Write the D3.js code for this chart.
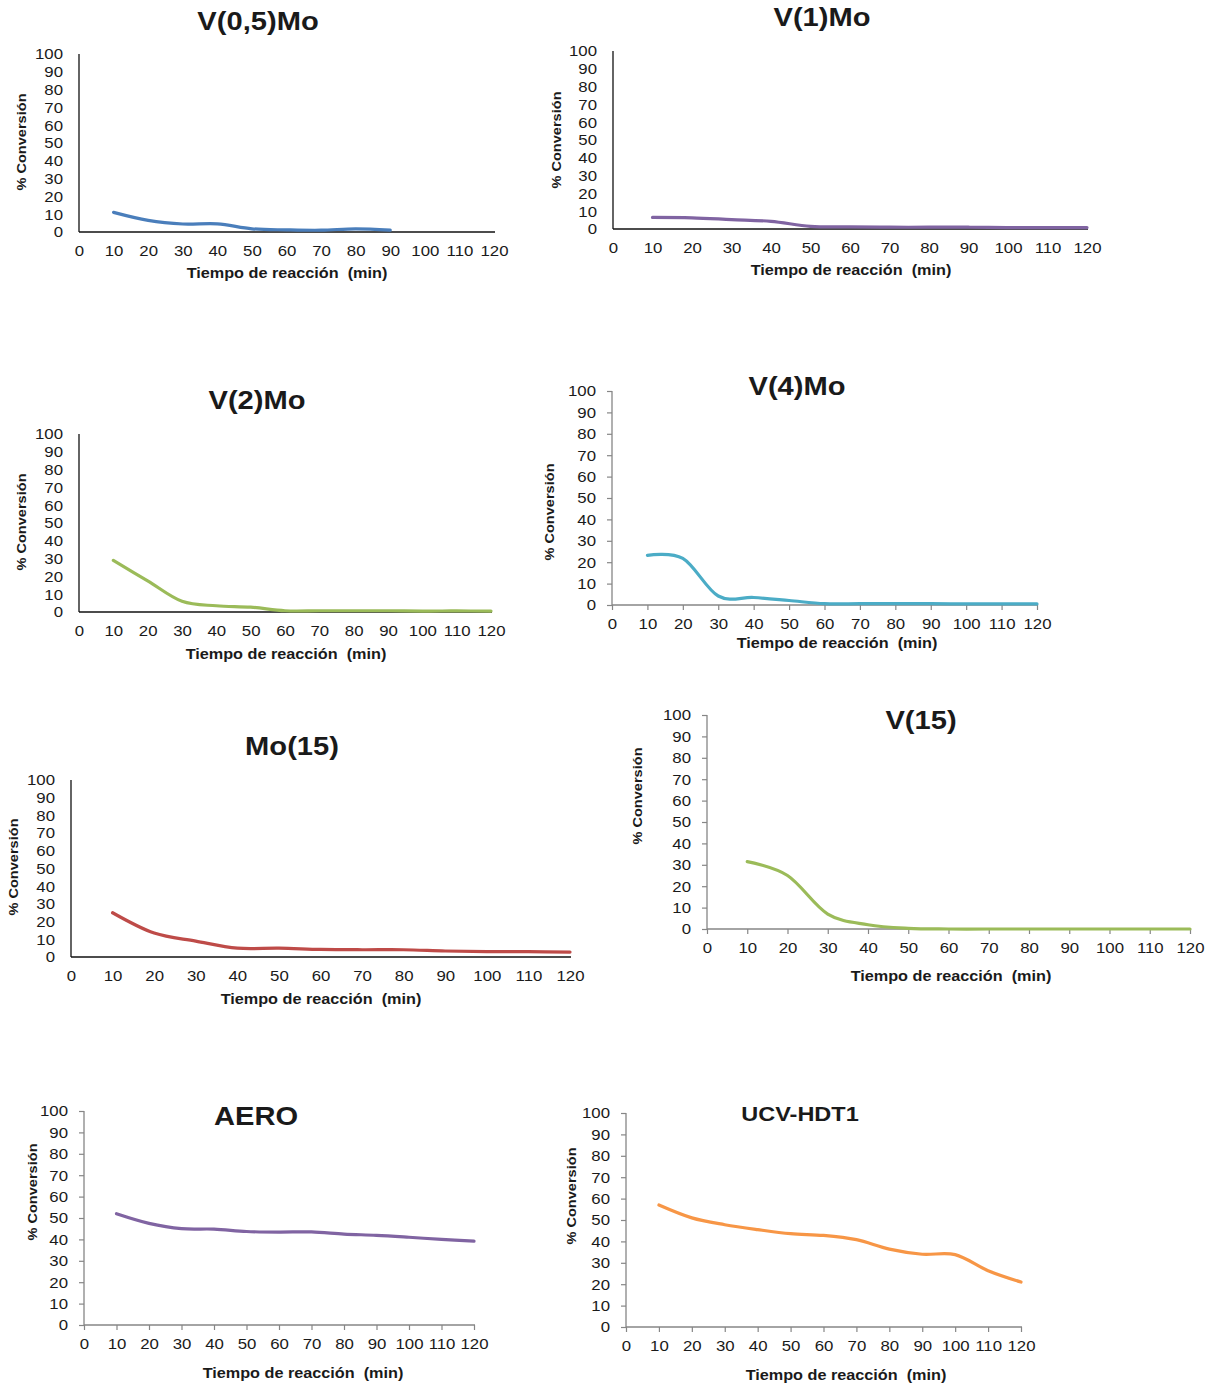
<!DOCTYPE html>
<html>
<head>
<meta charset="utf-8">
<script src="https://cdn.jsdelivr.net/npm/d3@7"></script>
<style>
  html, body { margin: 0; padding: 0; background: #fff; }
  svg { display: block; }
  text { font-family: "Liberation Sans", Arial, sans-serif; fill: #1a1a1a; white-space: pre; }
</style>
</head>
<body>
<svg id="chart" width="1213" height="1388"></svg>
<script>
// ---------------- DATA ----------------
const xTickValues = [0, 10, 20, 30, 40, 50, 60, 70, 80, 90, 100, 110, 120];
const yTickValues = [0, 10, 20, 30, 40, 50, 60, 70, 80, 90, 100];
const times = [10, 20, 30, 40, 50, 60, 70, 80, 90, 100, 110, 120];
const timesShort = [10, 20, 30, 40, 50, 60, 70, 80, 90];

const titles = ["V(0,5)Mo", "V(1)Mo", "V(2)Mo", "V(4)Mo", "Mo(15)", "V(15)", "AERO", "UCV-HDT1"];
const xAxisTitle = "Tiempo de reacción  (min)";
const yAxisTitle = "% Conversión";

const v05Mo  = [11, 6.5, 4.5, 4.6, 1.8, 1.2, 1.0, 1.8, 1.0];
const v1Mo   = [6.5, 6.3, 5.3, 4.3, 1.5, 1.2, 1.0, 1.0, 1.0, 0.8, 0.8, 0.8];
const v2Mo   = [29, 17.5, 6, 3.5, 2.7, 0.7, 0.7, 0.7, 0.7, 0.5, 0.6, 0.5];
const v4Mo   = [23.2, 21.8, 4.2, 3.5, 2.1, 0.6, 0.6, 0.6, 0.6, 0.5, 0.5, 0.5];
const mo15   = [25, 13.5, 9, 5, 5, 4.3, 4.1, 4.1, 3.4, 3.0, 3.0, 2.8];
const v15    = [31.5, 25, 7, 2, 0.3, 0, 0, 0, 0, 0, 0, 0];
const aero   = [52, 47.5, 45, 44.8, 43.7, 43.4, 43.5, 42.5, 41.9, 41, 40, 39.2];
const ucvHdt1 = [57, 51, 47.8, 45.5, 43.6, 42.8, 40.8, 36.4, 34, 33.8, 26.3, 21];

const seriesList = [v05Mo, v1Mo, v2Mo, v4Mo, mo15, v15, aero, ucvHdt1];
const timeList = [timesShort, times, times, times, times, times, times, times];
const colors = ["#4a7ebb", "#8064a2", "#9bbb59", "#4bacc6", "#be4b48", "#9bbb59", "#8064a2", "#f79646"];

// ---------------- LAYOUT ----------------
// x0/x1: pixel of x=0 / x=120 ; y0/y1: pixel of y=0 / y=100
const layout = [
  {x0: 79,  x1: 494,  y0: 232,  y1: 54,   ticks: false, axis: "#111", tX: 258, tY: 21,   tS: 26, xtX: 287, xtY: 273,  ylX: 22,  ylY: 142},
  {x0: 613, x1: 1087, y0: 229,  y1: 51,   ticks: false, axis: "#111", tX: 822, tY: 17,   tS: 26, xtX: 851, xtY: 270,  ylX: 557, ylY: 140},
  {x0: 79,  x1: 491,  y0: 612,  y1: 434,  ticks: false, axis: "#111", tX: 257, tY: 400,  tS: 26, xtX: 286, xtY: 654,  ylX: 22,  ylY: 522},
  {x0: 612, x1: 1037, y0: 605,  y1: 391,  ticks: true,  axis: "#868686", tX: 797, tY: 386,  tS: 26, xtX: 837, xtY: 643,  ylX: 550, ylY: 512},
  {x0: 71,  x1: 570,  y0: 957,  y1: 780,  ticks: false, axis: "#111", tX: 292, tY: 746,  tS: 26, xtX: 321, xtY: 999,  ylX: 14,  ylY: 867},
  {x0: 707, x1: 1190, y0: 929,  y1: 715,  ticks: true,  axis: "#868686", tX: 921, tY: 720,  tS: 26, xtX: 951, xtY: 976,  ylX: 638, ylY: 796},
  {x0: 84,  x1: 474,  y0: 1325, y1: 1111, ticks: true,  axis: "#868686", tX: 256, tY: 1116, tS: 26, xtX: 303, xtY: 1373, ylX: 33,  ylY: 1192},
  {x0: 626, x1: 1021, y0: 1327, y1: 1113, ticks: true,  axis: "#868686", tX: 800, tY: 1114, tS: 21, xtX: 846, xtY: 1375, ylX: 572, ylY: 1196}
];

const SX = 1.12; // horizontal text stretch seen in the reference
const svg = d3.select("#chart");

function addText(x, y, str, size, weight, rot) {
  return svg.append("text")
    .attr("transform", `translate(${x},${y}) rotate(${rot || 0}) scale(${SX},1)`)
    .attr("text-anchor", "middle")
    .attr("dominant-baseline", "central")
    .style("font-size", size + "px")
    .style("font-weight", weight)
    .text(str);
}

layout.forEach((L, i) => {
  const xs = d3.scaleLinear().domain([0, 120]).range([L.x0, L.x1]);
  const ys = d3.scaleLinear().domain([0, 100]).range([L.y0, L.y1]);
  const tk = L.ticks ? 5 : 0;

  // x axis
  const gx = svg.append("g").attr("transform", `translate(0,${L.y0})`)
    .call(d3.axisBottom(xs).tickValues(xTickValues).tickSizeInner(tk).tickSizeOuter(0).tickPadding(13.5 - tk));
  // y axis
  const gy = svg.append("g").attr("transform", `translate(${L.x0},0)`)
    .call(d3.axisLeft(ys).tickValues(yTickValues).tickSizeInner(tk).tickSizeOuter(0).tickPadding(16 - tk));

  [gx, gy].forEach(g => {
    g.select(".domain").attr("stroke", L.axis).attr("stroke-width", 1.3);
    g.selectAll(".tick line").attr("stroke", L.axis).attr("stroke-width", 1.2);
    g.selectAll(".tick text")
      .style("font-size", "15px")
      .style("font-family", '"Liberation Sans", Arial, sans-serif')
      .attr("fill", "#1a1a1a")
      .each(function () {
        const t = d3.select(this);
        const x = +t.attr("x") || 0;
        t.attr("x", x / SX).attr("transform", `scale(${SX},1)`);
      });
  });
  gx.select(".domain").attr("d", `M${L.x0},0H${L.x1 + 1}`);
  gy.select(".domain").attr("d", `M0,${L.y0}V${L.y1}`);

  // line
  const vals = seriesList[i];
  const ts = timeList[i];
  const pts = ts.map((t, k) => [t, vals[k]]);
  const line = d3.line().x(d => xs(d[0])).y(d => ys(d[1])).curve(d3.curveCardinal.tension(0));
  svg.append("path").datum(pts)
    .attr("d", line)
    .attr("fill", "none")
    .attr("stroke", colors[i])
    .attr("stroke-width", 3.2)
    .attr("stroke-linecap", "round")
    .attr("stroke-linejoin", "round");

  // titles
  addText(L.tX, L.tY, titles[i], L.tS, "bold");
  addText(L.xtX, L.xtY, xAxisTitle, 14.5, "bold");
  addText(L.ylX, L.ylY, yAxisTitle, 13, "bold", -90);
});
</script>
</body>
</html>
